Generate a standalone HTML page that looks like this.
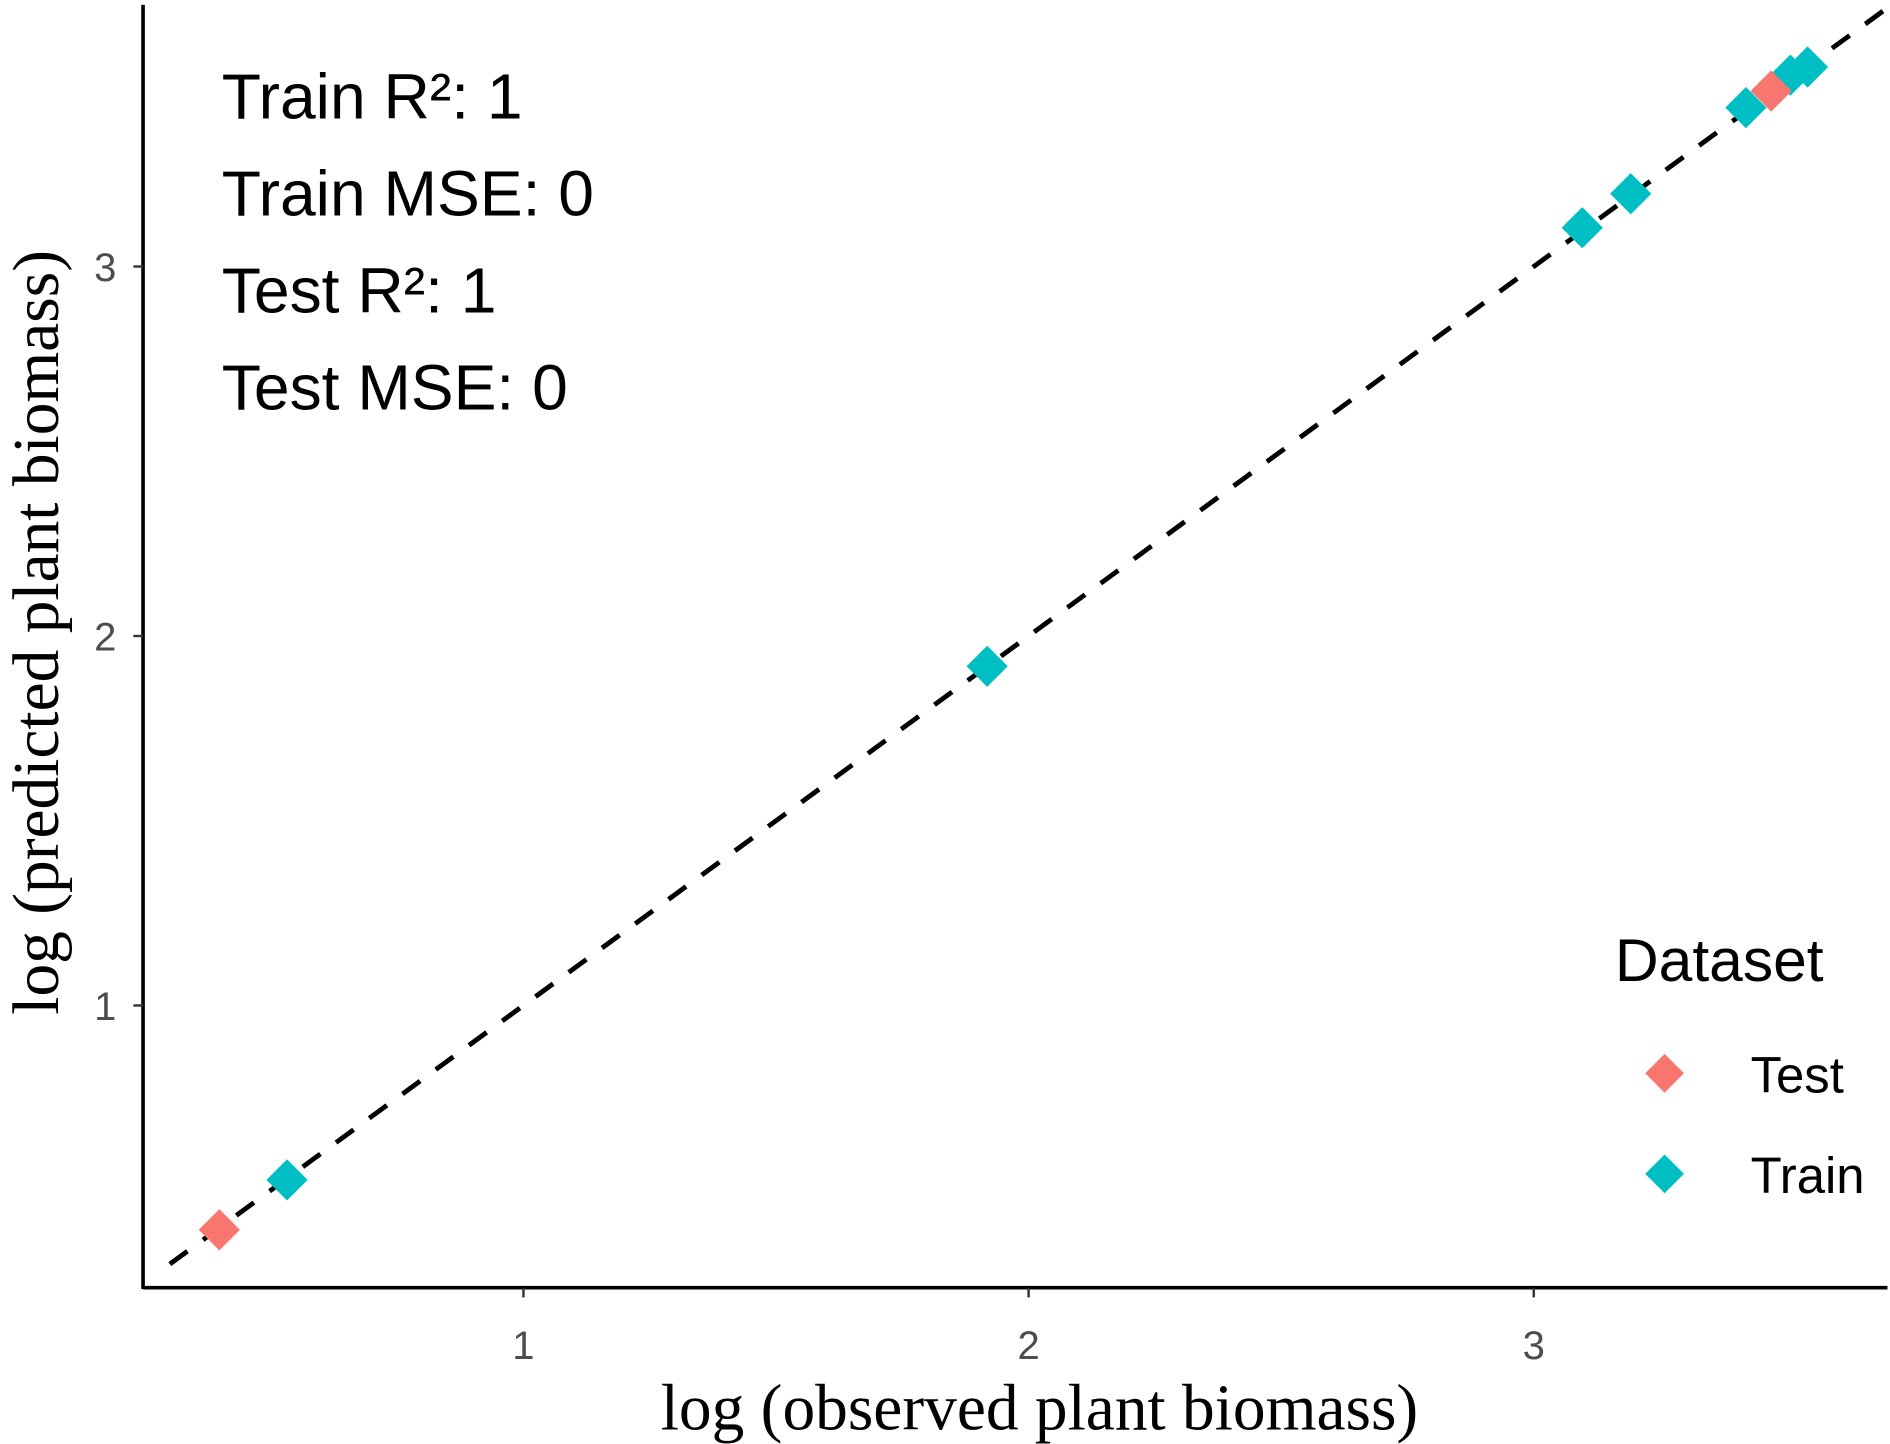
<!DOCTYPE html>
<html><head><meta charset="utf-8"><style>
html,body{margin:0;padding:0;background:#fff;}
svg{display:block;}
.tick{font-family:"Liberation Sans",sans-serif;font-size:33px;fill:#4d4d4d;}
.title{font-family:"Liberation Serif",serif;font-size:54px;fill:#000;}
.ann{font-family:"Liberation Sans",sans-serif;font-size:53px;fill:#000;}
</style></head><body>
<svg id="chart" width="1890" height="1444" viewBox="0 0 1560 1192" xmlns="http://www.w3.org/2000/svg">
<g id="plot"></g>
<text class="ann" x="183" y="98">Train R²: 1</text>
<text class="ann" x="183" y="178">Train MSE: 0</text>
<text class="ann" x="183" y="258">Test R²: 1</text>
<text class="ann" x="183" y="338">Test MSE: 0</text>
<text class="title" x="858" y="1180" text-anchor="middle">log (observed plant biomass)</text>
<text class="title" transform="translate(48,522) rotate(-90)" text-anchor="middle">log (predicted plant biomass)</text>
<g>
<text x="1333" y="810" style="font-family:'Liberation Sans',sans-serif;font-size:50px">Dataset</text>
<g><path d="M1374 870 l16 16 l-16 16 l-16 -16 z" fill="#F8766D"/><text x="1445" y="902" style="font-family:'Liberation Sans',sans-serif;font-size:42px">Test</text></g>
<g><path d="M1374 953 l16 16 l-16 16 l-16 -16 z" fill="#00BFC4"/><text x="1445" y="985" style="font-family:'Liberation Sans',sans-serif;font-size:42px">Train</text></g>
</g>
</svg>
<script>
const xTicks=[1,2,3];
const yTicks=[1,2,3];
const testX=[0.398,3.47];
const testY=[0.393,3.475];
const trainX=[0.532,1.918,3.096,3.192,3.42,3.508,3.542];
const trainY=[0.528,1.918,3.105,3.197,3.43,3.518,3.54];
const refLine=[0.3,3.7];
const sx=v=>432+(v-1)*417;
const sy=v=>830-(v-1)*305;
const NS="http://www.w3.org/2000/svg";
const g=document.getElementById('plot');
function mk(t,a){const e=document.createElementNS(NS,t);for(const k in a)e.setAttribute(k,a[k]);g.appendChild(e);return e;}
let l=mk('line',{x1:sx(refLine[0]),y1:sy(refLine[0]),x2:sx(refLine[1]),y2:sy(refLine[1]),stroke:'#000','stroke-width':4,'stroke-dasharray':'18 16'});


function pt(x,y,c,n){const X=sx(x),Y=sy(y);const p=mk('path',{d:`M${X} ${Y-17} l17 17 l-17 17 l-17 -17 z`,fill:c});

}
trainX.forEach((x,i)=>pt(x,trainY[i],'#00BFC4','train-point'));
testX.forEach((x,i)=>pt(x,testY[i],'#F8766D','test-point'));
let ax=mk('line',{x1:118,y1:1063,x2:1558,y2:1063,stroke:'#000','stroke-width':3});


let ay=mk('line',{x1:118,y1:4,x2:118,y2:1064,stroke:'#000','stroke-width':3});


xTicks.forEach(v=>{mk('line',{x1:sx(v),y1:1063,x2:sx(v),y2:1071,stroke:'#333','stroke-width':2});
const t=mk('text',{x:sx(v),y:1122,class:'tick','text-anchor':'middle'});t.textContent=v;

});
yTicks.forEach(v=>{mk('line',{x1:110,y1:sy(v),x2:118,y2:sy(v),stroke:'#333','stroke-width':2});
const t=mk('text',{x:96,y:sy(v)+12,class:'tick','text-anchor':'end'});t.textContent=v;

});
</script>
</body></html>
